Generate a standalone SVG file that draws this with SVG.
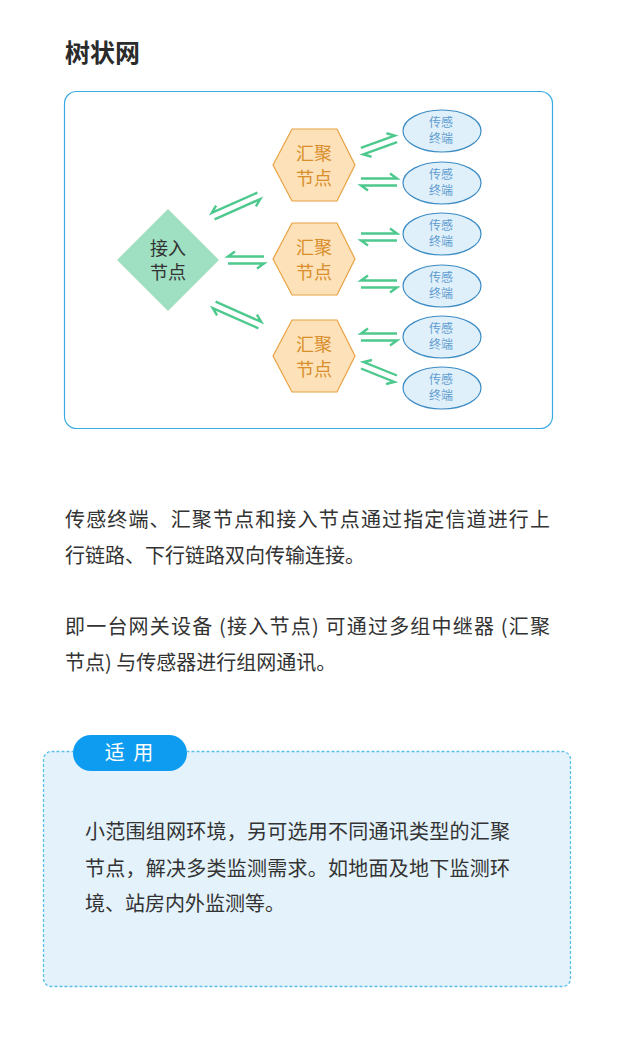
<svg xmlns="http://www.w3.org/2000/svg" width="619" height="1041" viewBox="0 0 619 1041">
<style>
.cjk{font-family:"Noto Sans CJK SC","Noto Sans",sans-serif}
.title{font-size:25px;font-weight:bold;fill:#2b2b2b}
.body{font-size:20px;fill:#333}
.hubt{font-size:18px;fill:#333;text-anchor:middle}
.hext{font-size:18px;fill:#d98e2c;text-anchor:middle}
.sent{font-size:12px;fill:#5f9ccf;text-anchor:middle}
.hex{fill:#fde1b8;stroke:#e9a244;stroke-width:1.2}
.sen{fill:#dff0fb;stroke:#3d8cc4;stroke-width:1.2}
.arr{fill:none;stroke:#4ec98e;stroke-width:2.4;stroke-linejoin:miter}
</style>
<rect width="619" height="1041" fill="#fff"/>
<text class="cjk title" x="65" y="62">树状网</text>
<rect x="64.5" y="91.5" width="488" height="337" rx="12" fill="#fff" stroke="#3aaae2" stroke-width="1.2"/>

<g id="hub">
<polygon points="168,209 219,260 168,311 117,260" fill="#9fdfc2"/>
<text class="cjk hubt" x="168" y="255">接入</text>
<text class="cjk hubt" x="168" y="279">节点</text>
</g>

<g id="agg1">
<polygon class="hex" points="292,129 337,129 355,165 337,201 292,201 273,165"/>
<text class="cjk hext" x="314" y="160">汇聚</text>
<text class="cjk hext" x="314" y="185">节点</text>
</g>
<g id="agg2">
<polygon class="hex" points="292,223 337,223 355,259 337,295 292,295 273,259"/>
<text class="cjk hext" x="314" y="254">汇聚</text>
<text class="cjk hext" x="314" y="279">节点</text>
</g>
<g id="agg3">
<polygon class="hex" points="292,320 337,320 355,356 337,392 292,392 273,356"/>
<text class="cjk hext" x="314" y="351">汇聚</text>
<text class="cjk hext" x="314" y="376">节点</text>
</g>

<g id="s1"><ellipse class="sen" cx="442" cy="131" rx="39" ry="21"/><text class="cjk sent" x="441" y="127">传感</text><text class="cjk sent" x="441" y="143">终端</text></g>
<g id="s2"><ellipse class="sen" cx="442" cy="183" rx="39" ry="21"/><text class="cjk sent" x="441" y="179">传感</text><text class="cjk sent" x="441" y="195">终端</text></g>
<g id="s3"><ellipse class="sen" cx="442" cy="234" rx="39" ry="21"/><text class="cjk sent" x="441" y="230">传感</text><text class="cjk sent" x="441" y="246">终端</text></g>
<g id="s4"><ellipse class="sen" cx="442" cy="286" rx="39" ry="21"/><text class="cjk sent" x="441" y="282">传感</text><text class="cjk sent" x="441" y="298">终端</text></g>
<g id="s5"><ellipse class="sen" cx="442" cy="337" rx="39" ry="21"/><text class="cjk sent" x="441" y="333">传感</text><text class="cjk sent" x="441" y="349">终端</text></g>
<g id="s6"><ellipse class="sen" cx="442" cy="388" rx="39" ry="21"/><text class="cjk sent" x="441" y="384">传感</text><text class="cjk sent" x="441" y="400">终端</text></g>

<g id="connectors" class="arr">
<path transform="translate(236,206) rotate(-24)" d="M25,-3.5H-25L-18,-8.5M-25,3.5H25L18,8.5"/>
<path transform="translate(246,260)" d="M18,-3.5H-18L-11,-8.5M-18,3.5H18L11,8.5"/>
<path transform="translate(237,315) rotate(24)" d="M-25,-3.5H25L18,-8.5M25,3.5H-25L-18,8.5"/>
<path transform="translate(379,145) rotate(-20)" d="M-18,-3.5H18L11,-8.5M18,3.5H-18L-11,8.5"/>
<path transform="translate(379,182)" d="M-18,-3.5H18L11,-8.5M18,3.5H-18L-11,8.5"/>
<path transform="translate(379,237)" d="M-18,-3.5H18L11,-8.5M18,3.5H-18L-11,8.5"/>
<path transform="translate(379,284)" d="M18,-3.5H-18L-11,-8.5M-18,3.5H18L11,8.5"/>
<path transform="translate(379,337)" d="M18,-3.5H-18L-11,-8.5M-18,3.5H18L11,8.5"/>
<path transform="translate(379,372) rotate(22)" d="M18,-3.5H-18L-11,-8.5M-18,3.5H18L11,8.5"/>
</g>

<g id="para1">
<text class="cjk body" x="65" y="527" textLength="485" lengthAdjust="spacing">传感终端、汇聚节点和接入节点通过指定信道进行上</text>
<text class="cjk body" x="65" y="563">行链路、下行链路双向传输连接。</text>
</g>
<g id="para2">
<text class="cjk body" x="65" y="634" textLength="485" lengthAdjust="spacing">即一台网关设备 (接入节点) 可通过多组中继器 (汇聚</text>
<text class="cjk body" x="65" y="670">节点) 与传感器进行组网通讯。</text>
</g>

<g id="usage">
<rect x="43.5" y="751.5" width="527" height="235" rx="8" fill="#e3f2fb" stroke="#5bbfea" stroke-width="1.3" stroke-dasharray="3 2"/>
<rect x="73" y="735" width="114" height="36" rx="18" fill="#0e9cf0"/>
<text class="cjk" x="130" y="760" font-size="20" fill="#fff" text-anchor="middle" letter-spacing="2">适 用</text>
<text class="cjk body" x="85" y="839" textLength="425" lengthAdjust="spacing">小范围组网环境，另可选用不同通讯类型的汇聚</text>
<text class="cjk body" x="85" y="876" textLength="425" lengthAdjust="spacing">节点，解决多类监测需求。如地面及地下监测环</text>
<text class="cjk body" x="85" y="911">境、站房内外监测等。</text>
</g>
</svg>
